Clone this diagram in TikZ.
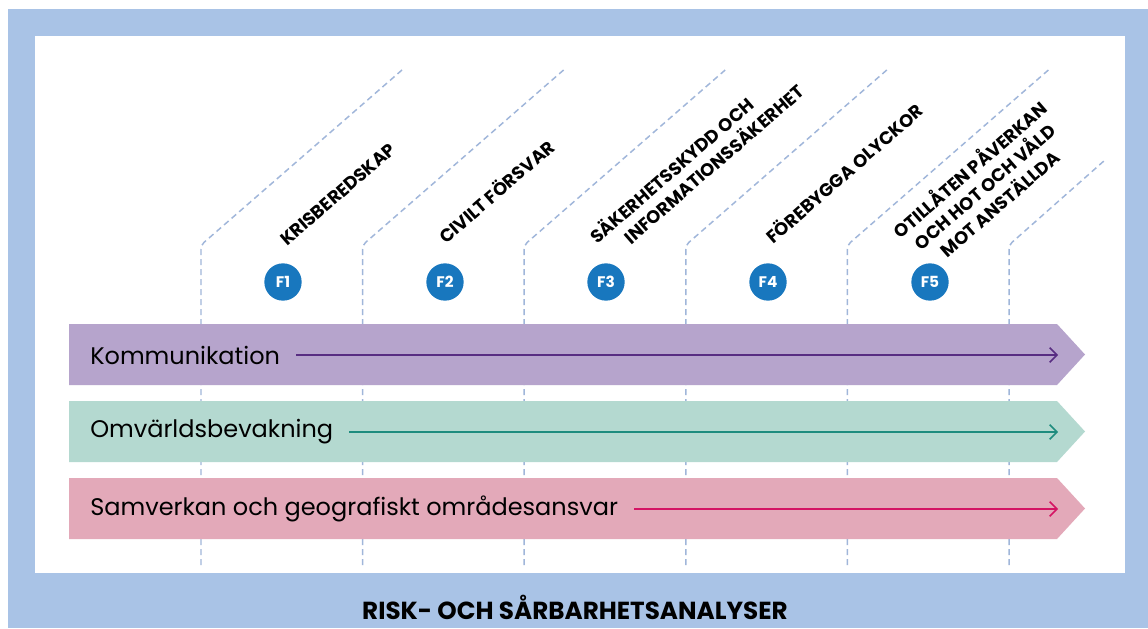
\documentclass[tikz,border=0pt]{standalone}
\usepackage{fontspec}
\setmainfont{Poppins}
\usetikzlibrary{arrows.meta}
\definecolor{frameblue}{RGB}{169,195,230}
\definecolor{dashblue}{RGB}{160,182,218}
\definecolor{fblue}{RGB}{24,119,190}
\definecolor{kombg}{RGB}{182,164,204}
\definecolor{komline}{RGB}{88,45,130}
\definecolor{omvbg}{RGB}{180,217,208}
\definecolor{omvline}{RGB}{30,140,126}
\definecolor{samvbg}{RGB}{227,169,185}
\definecolor{samvline}{RGB}{212,20,100}
\tikzset{
  dashline/.style={dashblue, line width=1.1pt, dash pattern=on 4.5pt off 3pt, rounded corners=3pt},
  fcirc/.style={circle, fill=fblue, text=white, minimum size=28pt, inner sep=0pt, font=\bfseries\fontsize{11.5}{11.5}\selectfont},
  flabel/.style={rotate=41, inner sep=0pt, anchor=base west, font=\bfseries\fontsize{13.5}{17}\selectfont},
  bandtext/.style={anchor=west, inner sep=0pt, font=\fontsize{18}{18}\selectfont},
  flow/.style={line width=1.1pt, shorten <=12pt, -{Straight Barb[length=5.5pt,width=11pt,line width=1.1pt]}}
}
\begin{document}
\begin{tikzpicture}[x=0.75pt,y=0.75pt,yscale=-1,xscale=1]
\useasboundingbox (0,0) rectangle (1148,628);

%Shape: Rectangle [frame]
\fill[frameblue] (8,9) rectangle (1148,628);
%Shape: Rectangle [panel]
\fill[white] (35,36) rectangle (1125,573);

%Dashed Lines [columns]
\foreach \x/\ex/\ey in {201/402/70, 362.6/563.6/70, 524.2/725.2/70, 685.8/886.8/70, 847.4/1048.4/70, 1009/1105/160}
  \draw[dashline] (\x,565) -- (\x,245) -- (\ex,\ey);

%Shape: Band [kommunikation]
\fill[kombg] (69,324) -- (1057,324) -- (1085,354.5) -- (1057,385) -- (69,385) -- cycle;
%Shape: Band [omvarld]
\fill[omvbg] (69,401) -- (1057,401) -- (1085,431.5) -- (1057,462) -- (69,462) -- cycle;
%Shape: Band [samverkan]
\fill[samvbg] (69,478) -- (1057,478) -- (1085,508.5) -- (1057,539) -- (69,539) -- cycle;

% Text Node
\node[bandtext] (kom) at (90,355) {Kommunikation};
\node[bandtext] (omv) at (90,432) {Omvärldsbevakning};
\node[bandtext] (samv) at (90,509) {Samverkan och geografiskt områdesansvar};
\coordinate (komend) at (1058,355);
\coordinate (omvend) at (1058,432);
\coordinate (samvend) at (1058,509);
\draw[flow, komline] (kom) -- (komend);
\draw[flow, omvline] (omv) -- (omvend);
\draw[flow, samvline] (samv) -- (samvend);

% Circle Nodes
\node[fcirc] (f1) at (283,282) {F1};
\node[fcirc] (f2) at (445,282) {F2};
\node[fcirc] (f3) at (606,282) {F3};
\node[fcirc] (f4) at (768,282) {F4};
\node[fcirc] (f5) at (930,282) {F5};

% Text Node
\node[flabel] (l1) at (287,247) {KRISBEREDSKAP};
\node[flabel] (l2) at (446,245) {CIVILT FÖRSVAR};
\node[flabel, align=left] (l3) at (612,262) {SÄKERHETSSKYDD OCH\\\hspace*{1.4em}INFORMATIONSSÄKERHET};
\node[flabel] (l4) at (773,245) {FÖREBYGGA OLYCKOR};
\node[flabel, align=center] (l5) at (930,274) {OTILLÅTEN PÅVERKAN\\OCH HOT OCH VÅLD\\MOT ANSTÄLLDA};

% Text Node
\node[font=\bfseries\fontsize{18.5}{18.5}\selectfont] (title) at (575,607) {RISK- OCH SÅRBARHETSANALYSER};

\end{tikzpicture}
\end{document}
